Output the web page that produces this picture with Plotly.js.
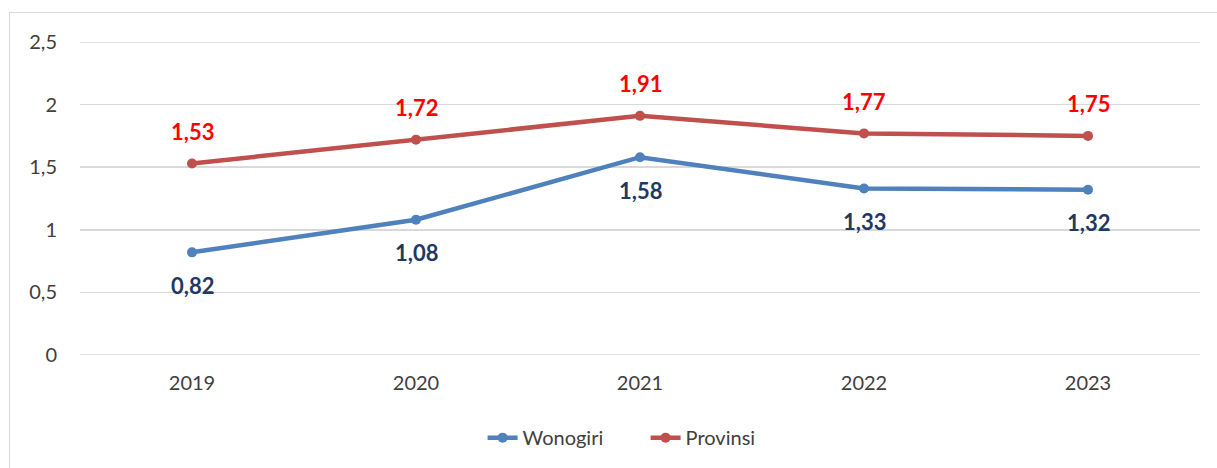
<!DOCTYPE html>
<html>
<head>
<meta charset="utf-8">
<script src="https://cdn.plot.ly/plotly-3.0.1.min.js"></script>
<style>
  html, body { margin: 0; padding: 0; background: #fff; }
  #wrap { position: relative; width: 1217px; height: 468px; overflow: hidden; }
  #chart { width: 1217px; height: 468px; }
  #frame { position: absolute; left: 9px; top: 12px; width: 1240px; height: 500px;
           border: 1.5px solid #d9d9d9; pointer-events: none; box-sizing: border-box; }
</style>
</head>
<body>
<div id="wrap">
  <div id="chart"></div>
  <div id="frame"></div>
</div>
<script>
const years = ["2019", "2020", "2021", "2022", "2023"];
const wonogiri = [0.82, 1.08, 1.58, 1.33, 1.32];
const provinsi = [1.53, 1.72, 1.91, 1.77, 1.75];
const yTickVals = [0, 0.5, 1, 1.5, 2, 2.5];
const yTickText = ["0", "0,5", "1", "1,5", "2", "2,5"];

const fmt = v => v.toFixed(2).replace(".", ",");
const FONT = "Lato, 'Open Sans', sans-serif";

const traces = [
  {
    x: years, y: wonogiri, name: "Wonogiri", type: "scatter", mode: "lines+markers",
    line: { color: "#4f81bd", width: 4.5 },
    marker: { color: "#4f81bd", size: 10 }
  },
  {
    x: years, y: provinsi, name: "Provinsi", type: "scatter", mode: "lines+markers",
    line: { color: "#c0504d", width: 4.5 },
    marker: { color: "#c0504d", size: 10 }
  }
];

const annotations = [];
years.forEach((yr, i) => {
  annotations.push({
    x: i, y: provinsi[i], xref: "x", yref: "y", text: "<b>" + fmt(provinsi[i]) + "</b>",
    showarrow: false, yshift: 32, font: { family: FONT, size: 22, color: "#ff0000" }
  });
  annotations.push({
    x: i, y: wonogiri[i], xref: "x", yref: "y", text: "<b>" + fmt(wonogiri[i]) + "</b>",
    showarrow: false, yshift: -33, font: { family: FONT, size: 22, color: "#1f3864" }
  });
});

// gridlines at the range edges (Plotly hides edge gridlines)
const shapes = [yTickVals[0], yTickVals[yTickVals.length - 1]].map(v => ({
  type: "line", xref: "paper", x0: 0, x1: 1, yref: "y", y0: v, y1: v,
  line: { color: "#d9d9d9", width: 1.5 }, layer: "below"
}));

const layout = {
  width: 1217, height: 468,
  margin: { l: 80, r: 17, t: 42, b: 112 },
  paper_bgcolor: "rgba(0,0,0,0)", plot_bgcolor: "#ffffff",
  font: { family: FONT, size: 20, color: "#404040" },
  showlegend: true,
  legend: {
    orientation: "h", x: 0.505, xanchor: "center", y: -0.26, yanchor: "middle",
    font: { family: FONT, size: 20, color: "#404040" },
    entrywidth: 118, entrywidthmode: "pixels"
  },
  xaxis: {
    type: "category", range: [-0.5, 4.5], showgrid: false, zeroline: false,
    showline: false, ticks: "", ticklabelstandoff: 14,
    tickfont: { size: 20, color: "#404040" }
  },
  yaxis: {
    range: [0, 2.5], tickvals: yTickVals, ticktext: yTickText,
    showgrid: true, gridcolor: "#d9d9d9", gridwidth: 1.5, zeroline: false,
    showline: false, ticks: "", ticklabelstandoff: 22,
    tickfont: { size: 20, color: "#404040" }
  },
  shapes: shapes,
  annotations: annotations
};

Plotly.newPlot("chart", traces, layout, { displayModeBar: false, staticPlot: true });
</script>
</body>
</html>
